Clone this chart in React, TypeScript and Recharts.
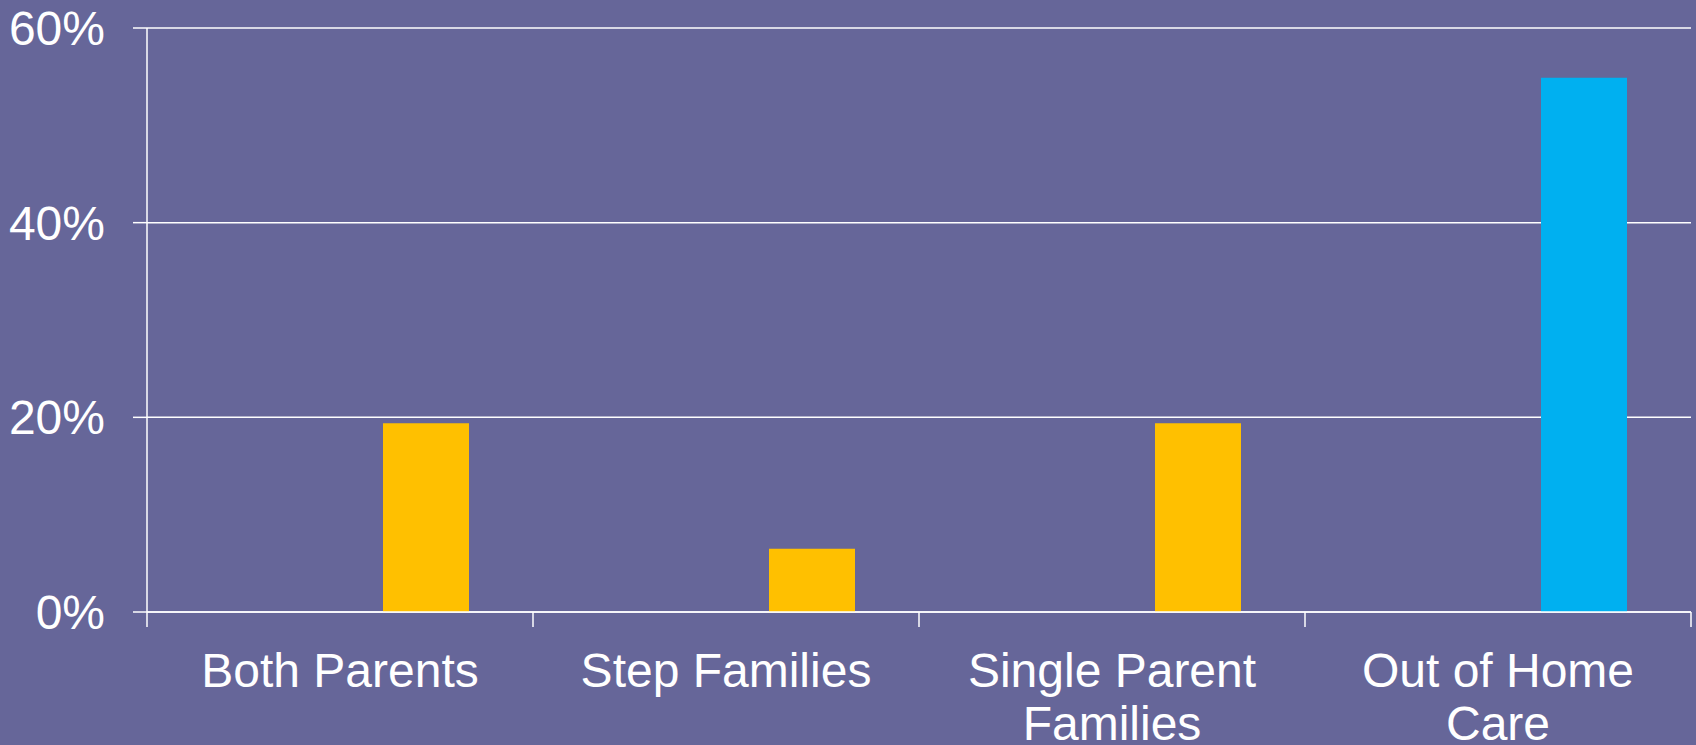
import { BarChart, Bar, XAxis, YAxis, CartesianGrid, Cell } from 'recharts';

const categories = ['Both Parents', 'Step Families', 'Single Parent\nFamilies', 'Out of Home\nCare'];
const shareValues = [19.4, 6.5, 19.4, 54.9];
const barColors = ['#FFC000', '#FFC000', '#FFC000', '#00B0F0'];
const yTicks = [0, 20, 40, 60];

const W = 1696;
const H = 745;
const AXIS_W = 147;
const RIGHT = 5;
const BG = '#666699';
const FONT = 'Arial, "Liberation Sans", sans-serif';

const data = categories.map((c, i) => ({
  category: c,
  emptyA: null,
  emptyB: null,
  share: shareValues[i],
}));

const halfBand = (W - AXIS_W - RIGHT) / categories.length / 2;

function CategoryTick({ x, y, payload, index }: any) {
  const lines = String(payload?.value ?? '').split('\n');
  const last = index === categories.length - 1;
  return (
    <g>
      <line x1={x - halfBand} x2={x - halfBand} y1={y} y2={y + 15} stroke="#fff" strokeWidth={1.5} />
      {last && <line x1={x + halfBand} x2={x + halfBand} y1={y} y2={y + 15} stroke="#fff" strokeWidth={1.5} />}
      <text x={x} y={y + 75} textAnchor="middle" fill="#fff" fontSize={48} fontFamily={FONT}>
        {lines.map((l, i) => (
          <tspan key={i} x={x} dy={i === 0 ? 0 : 53}>{l}</tspan>
        ))}
      </text>
    </g>
  );
}

export default function App() {
  return (
    <div style={{ position: 'fixed', left: 0, top: 0, width: W, height: H, background: BG, overflow: 'hidden' }}>
      <BarChart
        width={W}
        height={H}
        data={data}
        margin={{ top: 28, right: RIGHT, bottom: 0, left: 0 }}
        barCategoryGap={64}
        barGap={0}
      >
        <CartesianGrid vertical={false} stroke="#fff" strokeWidth={1.5} />
        <XAxis
          dataKey="category"
          axisLine={{ stroke: '#fff', strokeWidth: 1.5 }}
          tickLine={false}
          tickSize={0}
          tickMargin={0}
          interval={0}
          height={133}
          tick={<CategoryTick />}
        />
        <YAxis
          width={AXIS_W}
          domain={[0, 60]}
          ticks={yTicks}
          tickFormatter={(v: number) => `${v}%`}
          axisLine={{ stroke: '#fff', strokeWidth: 1.5 }}
          tickLine={{ stroke: '#fff', strokeWidth: 1.5 }}
          tickSize={14}
          tickMargin={28}
          tick={{ fill: '#fff', fontSize: 48, fontFamily: FONT }}
        />
        <Bar dataKey="emptyA" isAnimationActive={false} fill={BG} />
        <Bar dataKey="emptyB" isAnimationActive={false} fill={BG} />
        <Bar dataKey="share" isAnimationActive={false}>
          {data.map((d, i) => (
            <Cell key={d.category} fill={barColors[i]} />
          ))}
        </Bar>
      </BarChart>
    </div>
  );
}
